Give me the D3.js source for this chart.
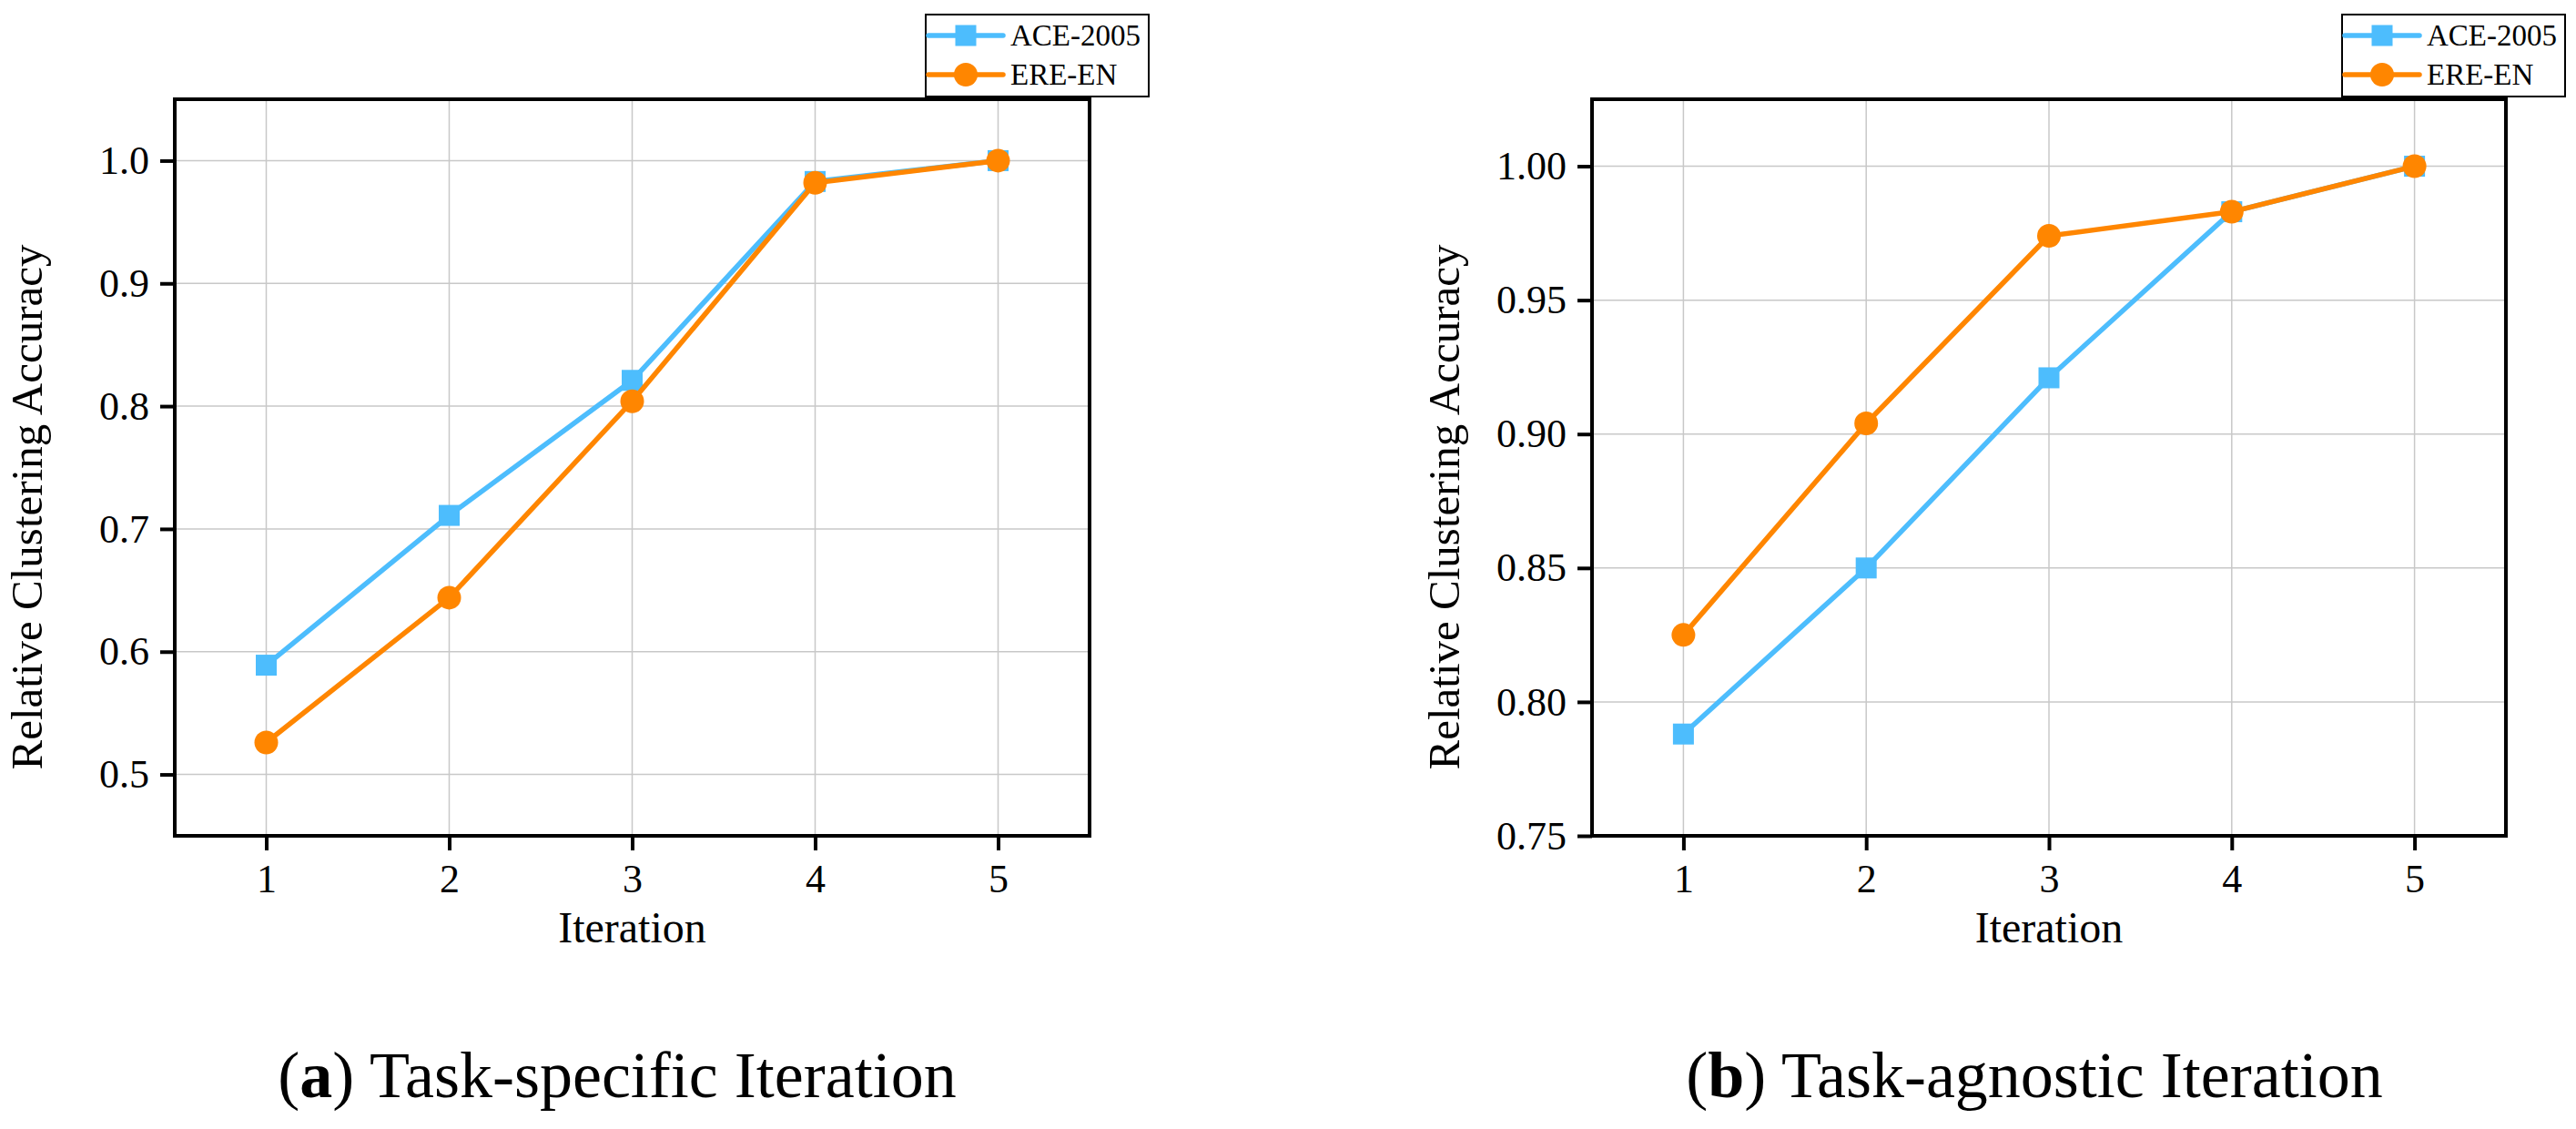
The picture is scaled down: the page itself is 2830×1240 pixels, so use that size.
<!DOCTYPE html>
<html>
<head>
<meta charset="utf-8">
<script src="https://cdn.jsdelivr.net/npm/d3@7"></script>
<style>
  html, body { margin: 0; padding: 0; background: #fff; }
  svg { display: block; font-family: "Liberation Serif", "Times New Roman", serif; }
</style>
</head>
<body>
<div id="chart"></div>
<script>
// values
const iterations = [1, 2, 3, 4, 5];
const seriesNames = ["ACE-2005", "ERE-EN"];

const aceSpecific = [0.589, 0.711, 0.821, 0.983, 1.000];
const ereSpecific = [0.526, 0.644, 0.804, 0.982, 1.000];

const aceAgnostic = [0.788, 0.850, 0.921, 0.983, 1.000];
const ereAgnostic = [0.825, 0.904, 0.974, 0.983, 1.000];

const ticksSpecific = [0.5, 0.6, 0.7, 0.8, 0.9, 1.0];
const ticksAgnostic = [0.75, 0.80, 0.85, 0.90, 0.95, 1.00];

const colors = {"ACE-2005": "#4dbdfd", "ERE-EN": "#ff8600"};
const serif = "'Liberation Serif', 'Times New Roman', serif";

const W = 2830, H = 1240;

const svg = d3.select("#chart").append("svg")
    .attr("width", W)
    .attr("height", H)
    .attr("font-family", serif);

const panels = [
    {left: 192, right: 1197, top: 109, bottom: 918,
     domain: [0.45, 1.05], ticks: ticksSpecific, fmt: ".1f",
     series: [aceSpecific, ereSpecific], tag: "a", caption: " Task-specific Iteration"},
    {left: 1749, right: 2753, top: 109, bottom: 918,
     domain: [0.75, 1.025], ticks: ticksAgnostic, fmt: ".2f",
     series: [aceAgnostic, ereAgnostic], tag: "b", caption: " Task-agnostic Iteration"}
];

panels.forEach(drawPanel);

function drawPanel(p) {
    const x = d3.scaleLinear().domain([0.5, 5.5]).range([p.left, p.right]);
    const y = d3.scaleLinear().domain(p.domain).range([p.bottom, p.top]);
    const g = svg.append("g");

    // grid
    g.append("g").selectAll("line")
        .data(iterations).enter().append("line")
        .attr("x1", d => x(d)).attr("x2", d => x(d))
        .attr("y1", p.top).attr("y2", p.bottom)
        .attr("stroke", "#c8c8c8").attr("stroke-width", 1.5);
    g.append("g").selectAll("line")
        .data(p.ticks).enter().append("line")
        .attr("x1", p.left).attr("x2", p.right)
        .attr("y1", d => y(d)).attr("y2", d => y(d))
        .attr("stroke", "#c8c8c8").attr("stroke-width", 1.5);

    // axes
    const xAxis = g.append("g")
        .attr("transform", `translate(0,${p.bottom})`)
        .call(d3.axisBottom(x).tickValues(iterations).tickFormat(d3.format("d"))
            .tickSize(16).tickPadding(15));
    const yAxis = g.append("g")
        .attr("transform", `translate(${p.left},0)`)
        .call(d3.axisLeft(y).tickValues(p.ticks).tickFormat(d3.format(p.fmt))
            .tickSize(16).tickPadding(12));
    [xAxis, yAxis].forEach(a => {
        a.attr("font-family", serif).attr("font-size", 44);
        a.select(".domain").remove();
        a.selectAll(".tick line").attr("stroke", "#000").attr("stroke-width", 4);
        a.selectAll(".tick text").attr("fill", "#000");
    });

    // lines and markers
    const line = d3.line().x((d, i) => x(iterations[i])).y(d => y(d));
    p.series.forEach((vals, si) => {
        const name = seriesNames[si];
        g.append("path")
            .datum(vals)
            .attr("d", line)
            .attr("fill", "none")
            .attr("stroke", colors[name])
            .attr("stroke-width", 5.5)
            .attr("stroke-linejoin", "round");
        if (si === 0) {
            g.selectAll(null).data(vals).enter().append("rect")
                .attr("x", (d, i) => x(iterations[i]) - 11.5)
                .attr("y", d => y(d) - 11.5)
                .attr("width", 23).attr("height", 23)
                .attr("fill", colors[name]);
        } else {
            g.selectAll(null).data(vals).enter().append("circle")
                .attr("cx", (d, i) => x(iterations[i]))
                .attr("cy", d => y(d))
                .attr("r", 13)
                .attr("fill", colors[name]);
        }
    });

    // frame
    g.append("rect")
        .attr("x", p.left).attr("y", p.top)
        .attr("width", p.right - p.left).attr("height", p.bottom - p.top)
        .attr("fill", "none").attr("stroke", "#000").attr("stroke-width", 4);

    // axis titles
    g.append("text")
        .attr("x", (p.left + p.right) / 2)
        .attr("y", 1035)
        .attr("text-anchor", "middle")
        .attr("font-size", 48)
        .text("Iteration");
    g.append("text")
        .attr("transform", `translate(${p.left - 146},557) rotate(-90)`)
        .attr("text-anchor", "middle")
        .attr("font-size", 49)
        .text("Relative Clustering Accuracy");

    // legend
    const lg = g.append("g").attr("transform", `translate(${p.right - 180},16)`);
    lg.append("rect")
        .attr("width", 245).attr("height", 90)
        .attr("fill", "#fff").attr("stroke", "#000").attr("stroke-width", 2);
    seriesNames.forEach((name, i) => {
        const cy = 23 + i * 43;
        lg.append("line")
            .attr("x1", 3).attr("x2", 85).attr("y1", cy).attr("y2", cy)
            .attr("stroke", colors[name]).attr("stroke-width", 5.5)
            .attr("stroke-linecap", "round");
        if (i === 0) {
            lg.append("rect").attr("x", 44 - 11.5).attr("y", cy - 11.5)
                .attr("width", 23).attr("height", 23).attr("fill", colors[name]);
        } else {
            lg.append("circle").attr("cx", 44).attr("cy", cy).attr("r", 13)
                .attr("fill", colors[name]);
        }
        lg.append("text")
            .attr("x", 93).attr("y", cy + 11)
            .attr("font-size", 33)
            .text(name);
    });

    // caption
    const cap = g.append("text")
        .attr("x", p.left + 486)
        .attr("y", 1205)
        .attr("text-anchor", "middle")
        .attr("font-size", 72);
    cap.append("tspan").text("(");
    cap.append("tspan").attr("font-weight", "bold").text(p.tag);
    cap.append("tspan").text(")");
    cap.append("tspan").text(p.caption);
}
</script>
</body>
</html>
